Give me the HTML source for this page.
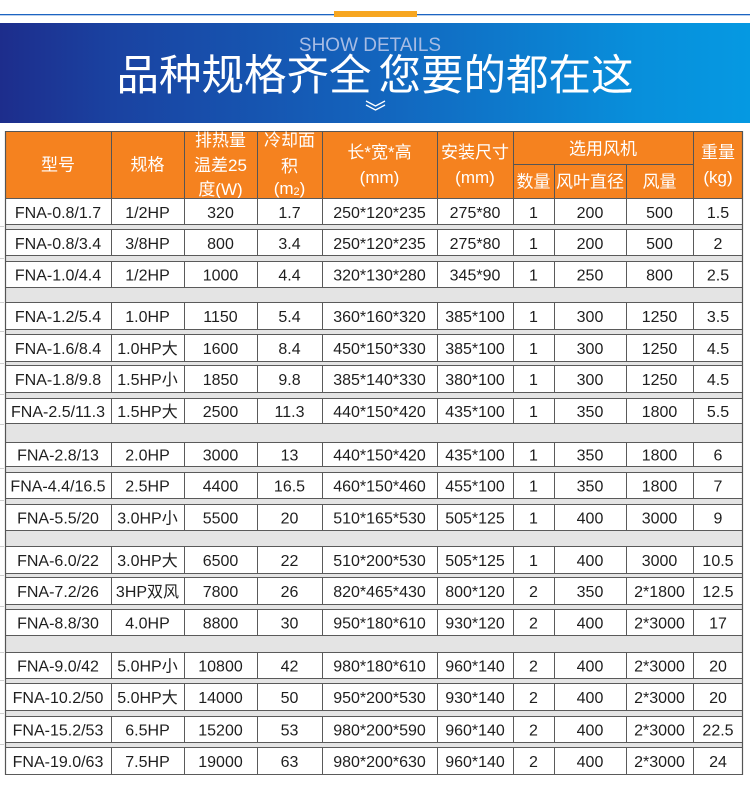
<!DOCTYPE html>
<html>
<head>
<meta charset="utf-8">
<style>
html,body{margin:0;padding:0;background:#fff;}
svg{display:block;}
</style>
</head>
<body>
<svg width="750" height="794" viewBox="0 0 750 794" xmlns="http://www.w3.org/2000/svg" font-family="'Liberation Sans','Noto Sans CJK SC',sans-serif">
<defs>
<linearGradient id="bg" x1="0" y1="0" x2="1" y2="0">
<stop offset="0" stop-color="#1d2d8c"/>
<stop offset="0.15" stop-color="#1a42a1"/>
<stop offset="0.5" stop-color="#1364bd"/>
<stop offset="0.85" stop-color="#088fdb"/>
<stop offset="1" stop-color="#0599e2"/>
</linearGradient>
</defs>
<rect x="0" y="0" width="750" height="794" fill="#fff"/>
<!-- top deco -->
<rect x="0" y="14" width="750" height="1.3" fill="#1c64c2"/>
<rect x="334" y="11" width="83" height="6" fill="#f7a620"/>
<!-- banner -->
<rect x="0" y="23" width="750" height="100" fill="url(#bg)"/>
<text x="370" y="51" font-size="19" fill="#a7bce4" text-anchor="middle">SHOW DETAILS</text>
<text x="375" y="90" font-size="42.5" fill="#fff" text-anchor="middle">品种规格齐全<tspan dx="7">您要的都在这</tspan></text>
<polyline points="366,101 375.5,106 385,101" fill="none" stroke="#fff" stroke-width="1.3"/>
<polyline points="366,105 375.5,110 385,105" fill="none" stroke="#fff" stroke-width="1.3"/>

<!-- header -->
<rect x="5" y="131" width="738" height="67" fill="#f5821f"/>
<g stroke="#555" stroke-width="1" fill="none">
<path d="M5 131.5H743M111.5 131V198M184.5 131V198M257.5 131V198M322.5 131V198M437.5 131V198M513.5 131V198M693.5 131V198M554.5 164V198M626.5 164V198M513 164.5H693"/>
</g>
<g fill="#fff" font-size="17" text-anchor="middle">
<text x="58" y="170.5">型号</text>
<text x="147.5" y="170.5">规格</text>
<text x="220.5" y="146">排热量</text>
<text x="220.5" y="171">温差25</text>
<text x="220.5" y="195">度(W)</text>
<text x="289.5" y="146">冷却面</text>
<text x="289.5" y="172">积</text>
<text x="289.5" y="194">(m<tspan font-size="11" dy="1">2</tspan><tspan dy="-1">)</tspan></text>
<text x="379.5" y="158">长*宽*高</text>
<text x="379.5" y="183">(mm)</text>
<text x="475" y="158">安装尺寸</text>
<text x="475" y="183">(mm)</text>
<text x="603" y="154.5">选用风机</text>
<text x="533.5" y="187.5">数量</text>
<text x="590" y="187.5">风叶直径</text>
<text x="659.5" y="187.5">风量</text>
<text x="718" y="158">重量</text>
<text x="718" y="183">(kg)</text>
</g>

<!-- body -->
<rect x="5" y="198" width="738" height="576" fill="#fff"/>
<path d="M111.5 198V774M184.5 198V774M257.5 198V774M322.5 198V774M437.5 198V774M513.5 198V774M554.5 198V774M626.5 198V774M693.5 198V774" stroke="#5a5a5a" stroke-width="1" fill="none"/>
<g fill="#e4e4e4">
<rect x="5" y="225" width="738" height="4"/>
<rect x="5" y="256" width="738" height="5"/>
<rect x="5" y="288" width="738" height="14"/>
<rect x="5" y="330" width="738" height="4"/>
<rect x="5" y="362" width="738" height="3"/>
<rect x="5" y="393" width="738" height="5"/>
<rect x="5" y="424" width="738" height="18"/>
<rect x="5" y="467" width="738" height="5"/>
<rect x="5" y="499" width="738" height="5"/>
<rect x="5" y="531" width="738" height="15"/>
<rect x="5" y="574" width="738" height="3"/>
<rect x="5" y="605" width="738" height="4"/>
<rect x="5" y="636" width="738" height="16"/>
<rect x="5" y="679" width="738" height="4"/>
<rect x="5" y="711" width="738" height="5"/>
<rect x="5" y="743" width="738" height="4"/>
</g>
<path d="M5 198.5H743M5 224.5H743M5 229.5H743M5 255.5H743M5 261.5H743M5 287.5H743M5 302.5H743M5 329.5H743M5 334.5H743M5 361.5H743M5 365.5H743M5 392.5H743M5 398.5H743M5 423.5H743M5 442.5H743M5 466.5H743M5 472.5H743M5 498.5H743M5 504.5H743M5 530.5H743M5 546.5H743M5 573.5H743M5 577.5H743M5 604.5H743M5 609.5H743M5 635.5H743M5 652.5H743M5 678.5H743M5 683.5H743M5 710.5H743M5 716.5H743M5 742.5H743M5 747.5H743M5 774.5H743" stroke="#5a5a5a" stroke-width="1" fill="none"/>
<path d="M5.5 131V775M742.5 131V775" stroke="#555" stroke-width="1.2" fill="none"/>
<path d="M0 226.5H4M0 258.5H4M0 302.5H4M0 331.5H4M0 363.5H4M0 394.5H4M0 424.5H4M0 468.5H4M0 500.5H4M0 546.5H4M0 575.5H4M0 606.5H4M0 652.5H4M0 680.5H4M0 713.5H4M0 744.5H4" stroke="#cfcfcf" stroke-width="1"/>

<g fill="#1e1e1e" font-size="16" text-anchor="middle">
<g transform="translate(0,218)">
<text x="58">FNA-0.8/1.7</text><text x="147.5">1/2HP</text><text x="220.5">320</text><text x="289.5">1.7</text><text x="379.5">250*120*235</text><text x="475">275*80</text><text x="533.5">1</text><text x="590">200</text><text x="659.5">500</text><text x="718">1.5</text>
</g>
<g transform="translate(0,249)">
<text x="58">FNA-0.8/3.4</text><text x="147.5">3/8HP</text><text x="220.5">800</text><text x="289.5">3.4</text><text x="379.5">250*120*235</text><text x="475">275*80</text><text x="533.5">1</text><text x="590">200</text><text x="659.5">500</text><text x="718">2</text>
</g>
<g transform="translate(0,280.5)">
<text x="58">FNA-1.0/4.4</text><text x="147.5">1/2HP</text><text x="220.5">1000</text><text x="289.5">4.4</text><text x="379.5">320*130*280</text><text x="475">345*90</text><text x="533.5">1</text><text x="590">250</text><text x="659.5">800</text><text x="718">2.5</text>
</g>
<g transform="translate(0,322)">
<text x="58">FNA-1.2/5.4</text><text x="147.5">1.0HP</text><text x="220.5">1150</text><text x="289.5">5.4</text><text x="379.5">360*160*320</text><text x="475">385*100</text><text x="533.5">1</text><text x="590">300</text><text x="659.5">1250</text><text x="718">3.5</text>
</g>
<g transform="translate(0,354)">
<text x="58">FNA-1.6/8.4</text><text x="147.5">1.0HP大</text><text x="220.5">1600</text><text x="289.5">8.4</text><text x="379.5">450*150*330</text><text x="475">385*100</text><text x="533.5">1</text><text x="590">300</text><text x="659.5">1250</text><text x="718">4.5</text>
</g>
<g transform="translate(0,385)">
<text x="58">FNA-1.8/9.8</text><text x="147.5">1.5HP小</text><text x="220.5">1850</text><text x="289.5">9.8</text><text x="379.5">385*140*330</text><text x="475">380*100</text><text x="533.5">1</text><text x="590">300</text><text x="659.5">1250</text><text x="718">4.5</text>
</g>
<g transform="translate(0,417)">
<text x="58">FNA-2.5/11.3</text><text x="147.5">1.5HP大</text><text x="220.5">2500</text><text x="289.5">11.3</text><text x="379.5">440*150*420</text><text x="475">435*100</text><text x="533.5">1</text><text x="590">350</text><text x="659.5">1800</text><text x="718">5.5</text>
</g>
<g transform="translate(0,460.5)">
<text x="58">FNA-2.8/13</text><text x="147.5">2.0HP</text><text x="220.5">3000</text><text x="289.5">13</text><text x="379.5">440*150*420</text><text x="475">435*100</text><text x="533.5">1</text><text x="590">350</text><text x="659.5">1800</text><text x="718">6</text>
</g>
<g transform="translate(0,491.5)">
<text x="58">FNA-4.4/16.5</text><text x="147.5">2.5HP</text><text x="220.5">4400</text><text x="289.5">16.5</text><text x="379.5">460*150*460</text><text x="475">455*100</text><text x="533.5">1</text><text x="590">350</text><text x="659.5">1800</text><text x="718">7</text>
</g>
<g transform="translate(0,523.5)">
<text x="58">FNA-5.5/20</text><text x="147.5">3.0HP小</text><text x="220.5">5500</text><text x="289.5">20</text><text x="379.5">510*165*530</text><text x="475">505*125</text><text x="533.5">1</text><text x="590">400</text><text x="659.5">3000</text><text x="718">9</text>
</g>
<g transform="translate(0,566)">
<text x="58">FNA-6.0/22</text><text x="147.5">3.0HP大</text><text x="220.5">6500</text><text x="289.5">22</text><text x="379.5">510*200*530</text><text x="475">505*125</text><text x="533.5">1</text><text x="590">400</text><text x="659.5">3000</text><text x="718">10.5</text>
</g>
<g transform="translate(0,597)">
<text x="58">FNA-7.2/26</text><text x="147.5">3HP双风</text><text x="220.5">7800</text><text x="289.5">26</text><text x="379.5">820*465*430</text><text x="475">800*120</text><text x="533.5">2</text><text x="590">350</text><text x="659.5">2*1800</text><text x="718">12.5</text>
</g>
<g transform="translate(0,628.5)">
<text x="58">FNA-8.8/30</text><text x="147.5">4.0HP</text><text x="220.5">8800</text><text x="289.5">30</text><text x="379.5">950*180*610</text><text x="475">930*120</text><text x="533.5">2</text><text x="590">400</text><text x="659.5">2*3000</text><text x="718">17</text>
</g>
<g transform="translate(0,671.5)">
<text x="58">FNA-9.0/42</text><text x="147.5">5.0HP小</text><text x="220.5">10800</text><text x="289.5">42</text><text x="379.5">980*180*610</text><text x="475">960*140</text><text x="533.5">2</text><text x="590">400</text><text x="659.5">2*3000</text><text x="718">20</text>
</g>
<g transform="translate(0,703)">
<text x="58">FNA-10.2/50</text><text x="147.5">5.0HP大</text><text x="220.5">14000</text><text x="289.5">50</text><text x="379.5">950*200*530</text><text x="475">930*140</text><text x="533.5">2</text><text x="590">400</text><text x="659.5">2*3000</text><text x="718">20</text>
</g>
<g transform="translate(0,735.5)">
<text x="58">FNA-15.2/53</text><text x="147.5">6.5HP</text><text x="220.5">15200</text><text x="289.5">53</text><text x="379.5">980*200*590</text><text x="475">960*140</text><text x="533.5">2</text><text x="590">400</text><text x="659.5">2*3000</text><text x="718">22.5</text>
</g>
<g transform="translate(0,767)">
<text x="58">FNA-19.0/63</text><text x="147.5">7.5HP</text><text x="220.5">19000</text><text x="289.5">63</text><text x="379.5">980*200*630</text><text x="475">960*140</text><text x="533.5">2</text><text x="590">400</text><text x="659.5">2*3000</text><text x="718">24</text>
</g>
</g>
</svg>
</body>
</html>
